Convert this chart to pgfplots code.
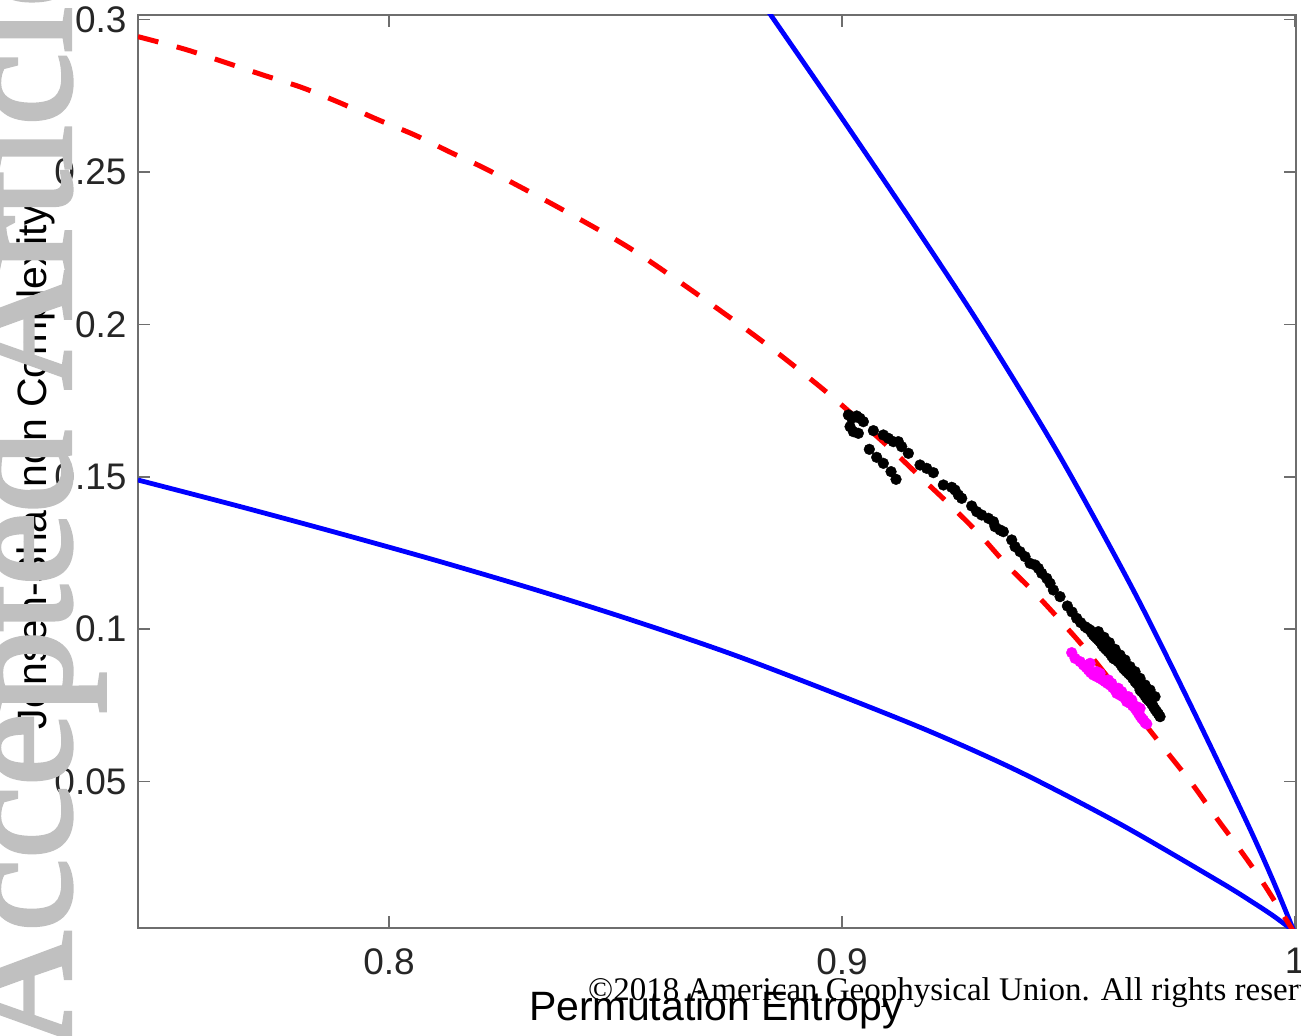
\documentclass[border=0pt]{standalone}
\usepackage{fontspec}
\setmainfont{Liberation Sans}
\newfontfamily\serifwm{Liberation Serif}
\newfontfamily\wmfont[FakeBold=2.5]{Liberation Serif}
\usepackage{pgfplots}
\pgfplotsset{compat=1.18}
\definecolor{axgray}{RGB}{110,110,110}
\definecolor{ticklab}{RGB}{38,38,38}
\definecolor{wm}{RGB}{192,192,192}
\definecolor{mag}{RGB}{255,0,255}
\begin{document}
\begin{tikzpicture}
\begin{axis}[
  at={(138bp,108bp)}, anchor=south west,
  width=1158bp, height=913bp, scale only axis,
  xmin=0.7446, xmax=1.0002, ymin=0.00197, ymax=0.30151,
  xtick={0.8,0.9,1}, xticklabels={0.8,0.9,1},
  ytick={0.05,0.1,0.15,0.2,0.25,0.3}, yticklabels={0.05,0.1,0.15,0.2,0.25,0.3},
  tick align=inside, major tick length=12bp,
  axis line style={axgray, line width=1.5bp},
  tick style={axgray, line width=1.5bp},
  tick label style={font=\fontsize{37bp}{40bp}\selectfont, text=ticklab},
  xticklabel style={yshift=-17bp},
  yticklabel style={xshift=-8bp},
  label style={font=\fontsize{41bp}{44bp}\selectfont},
  xlabel={Permutation Entropy},
  ylabel={Jensen-Shannon Complexity},
  xlabel style={at={(axis description cs:0.4991,-0.1008)}, anchor=base},
  ylabel style={at={(axis description cs:-0.0786,0.505)}, anchor=base},
  clip=true,
]
% lower bound (blue)
\addplot[blue, line width=4.8bp, smooth, tension=0.5] coordinates {
(0.74459,0.14895) (0.76667,0.14042) (0.78874,0.13156) (0.81082,0.12238) (0.83289,0.11270)
(0.85320,0.10318) (0.87528,0.09203) (0.89735,0.07956) (0.91943,0.06644) (0.93929,0.05315)
(0.96137,0.03609) (0.98344,0.01706) (0.99073,0.01033) (0.99514,0.00601) (1.0,0.0007)};
% upper bound (blue)
\addplot[blue, line width=4.8bp, smooth, tension=0.5] coordinates {
(0.88197,0.30643) (0.88411,0.30184) (0.90024,0.26706) (0.91664,0.23097) (0.93111,0.19816)
(0.94766,0.15781) (0.96393,0.11384) (0.97640,0.07677) (0.98912,0.03740) (0.99508,0.01772)
(1.0,0.0)};
% red dashed
\addplot[red, line width=5bp, dash pattern=on 21bp off 19bp, smooth, tension=0.5] coordinates {
(0.7446,0.2944) (0.7549,0.2903) (0.76336,0.28619) (0.77219,0.28182) (0.78064,0.27779)
(0.78912,0.27274) (0.7972,0.26739) (0.80567,0.26214) (0.81375,0.25633) (0.82185,0.25066)
(0.83775,0.23809) (0.8532,0.22497) (0.86828,0.20964) (0.883,0.1938) (0.89735,0.17684)
(0.9106,0.15935) (0.91722,0.15003) (0.92384,0.14075) (0.93046,0.13091) (0.93636,0.1211)
(0.94298,0.11122) (0.94885,0.10171) (0.9549,0.09131) (0.97167,0.0598) (0.97719,0.04944)
(0.98271,0.03796) (0.98786,0.0276) (0.993,0.01664) (1.0,0.0)};
% black points
\addplot[only marks, mark=*, mark size=5.4bp, black] coordinates {
(0.90140,0.17028) (0.90213,0.16918) (0.90324,0.16995) (0.90397,0.16918) (0.90471,0.16809)
(0.90177,0.16645) (0.90250,0.16481) (0.90360,0.16426) (0.90692,0.16514) (0.90912,0.16372)
(0.91023,0.16262) (0.91133,0.16153) (0.91243,0.16153) (0.91317,0.15989) (0.91464,0.15770)
(0.90603,0.15901) (0.90765,0.15639) (0.90912,0.15442) (0.91082,0.15169) (0.91192,0.14917)
(0.91722,0.15387) (0.91869,0.15278) (0.92016,0.15136) (0.92237,0.14731) (0.92421,0.14655)
(0.92494,0.14567) (0.92568,0.14403) (0.92642,0.14294) (0.92862,0.14042) (0.92973,0.13856)
(0.93083,0.13747) (0.93230,0.13638) (0.93341,0.13528) (0.93377,0.13364) (0.93488,0.13255)
(0.93561,0.13200) (0.93745,0.12927) (0.93819,0.12708) (0.93929,0.12544) (0.94040,0.12380)
(0.94150,0.12161) (0.94261,0.12107) (0.94334,0.11997) (0.94408,0.11833) (0.94518,0.11669)
(0.94592,0.11505) (0.94665,0.11286) (0.94812,0.11068) (0.94974,0.10761) (0.95180,0.10357)
(0.95364,0.10083) (0.95475,0.09974) (0.95548,0.09810) (0.95622,0.09701) (0.95695,0.09591)
(0.95769,0.09427) (0.95843,0.09318) (0.95916,0.09208) (0.95990,0.09045) (0.96063,0.08990)
(0.96137,0.08880) (0.96210,0.08717) (0.96284,0.08607) (0.96358,0.08498) (0.96468,0.08279)
(0.96542,0.08170) (0.96578,0.08005) (0.96652,0.07896) (0.96726,0.07732) (0.96799,0.07622)
(0.96873,0.07459) (0.96946,0.07295) (0.97020,0.07131)
(0.95658,0.09919) (0.95784,0.09734) (0.95901,0.09559) (0.96026,0.09340) (0.96137,0.09154)
(0.96247,0.08990) (0.96358,0.08771) (0.96468,0.08607) (0.96578,0.08388) (0.96689,0.08170)
(0.96799,0.08006) (0.96909,0.07787)
(0.95077,0.10565) (0.95268,0.10215) (0.95416,0.10029) (0.95511,0.09886) (0.95585,0.09755)
(0.95659,0.09646) (0.95732,0.09504) (0.95806,0.09373) (0.95879,0.09263) (0.95953,0.09121)
(0.96026,0.09012) (0.96100,0.08935) (0.96174,0.08793) (0.96247,0.08662) (0.96321,0.08552)
(0.96416,0.08388) (0.96505,0.08224) (0.96615,0.07951) (0.96689,0.07809) (0.96762,0.07677)
(0.96836,0.07546) (0.96909,0.07371) (0.96983,0.07218)};
% magenta points
\addplot[only marks, mark=*, mark size=5.4bp, draw=mag, fill=mag] coordinates {
(0.95070,0.09230) (0.95144,0.09044) (0.95328,0.08826) (0.95438,0.08662) (0.95549,0.08498)
(0.95696,0.08388) (0.95806,0.08279) (0.95916,0.08169) (0.96027,0.08005) (0.96137,0.07841)
(0.96248,0.07732) (0.96358,0.07568) (0.96468,0.07404) (0.96542,0.07240) (0.96616,0.07076)
(0.96689,0.06934) (0.95622,0.08607) (0.95880,0.08334) (0.96100,0.08060) (0.96321,0.07787)
(0.96505,0.07459) (0.96284,0.07623) (0.96064,0.07896)
(0.95254,0.08935) (0.95387,0.08749) (0.95490,0.08574) (0.95622,0.08443) (0.95755,0.08334)
(0.95858,0.08224) (0.95975,0.08082) (0.96078,0.07918) (0.96196,0.07787) (0.96299,0.07655)
(0.96417,0.07481) (0.96505,0.07327) (0.96579,0.07152) (0.96652,0.07021) (0.96726,0.06890)
(0.95475,0.08880) (0.95696,0.08552) (0.95953,0.08224) (0.96174,0.07951) (0.96395,0.07677)
(0.96579,0.07404)};
\end{axis}
\node[anchor=base west, inner sep=0pt, font=\serifwm\fontsize{33bp}{36bp}\selectfont] at (588bp,36bp) {©2018 American Geophysical Union. All rights reserved.};
\node[rotate=90, anchor=base west, inner sep=0pt, text=wm, font=\wmfont\fontsize{164bp}{164bp}\selectfont] at (70bp,-14bp) {Accepted Article};
\pgfresetboundingbox
\useasboundingbox (0,0) rectangle (1301bp,1036bp);
\end{tikzpicture}
\end{document}
